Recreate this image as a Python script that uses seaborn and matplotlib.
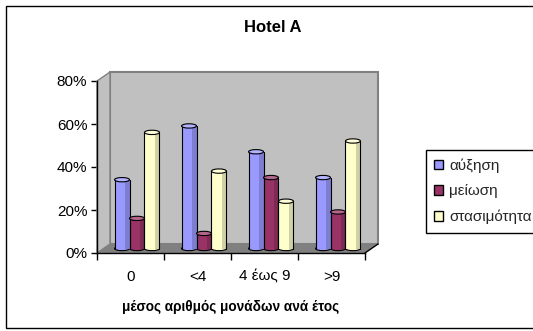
import matplotlib
matplotlib.use("Agg")
import matplotlib.pyplot as plt
import matplotlib.colors as mcolors
from matplotlib.patches import Polygon, Rectangle, Ellipse, Patch
from matplotlib.lines import Line2D
from matplotlib.ticker import PercentFormatter, FixedLocator
from matplotlib.transforms import Affine2D
import seaborn as sns
import pandas as pd

# Data
categories = ["0", "<4", "4 έως 9", ">9"]
series = ["αύξηση", "μείωση", "στασιμότητα"]
increase = [0.32, 0.57, 0.45, 0.33]
decrease = [0.14, 0.07, 0.33, 0.17]
stagnation = [0.54, 0.36, 0.22, 0.50]
colors = ["#9999FF", "#993366", "#FFFFCC"]
y_ticks = [0.0, 0.2, 0.4, 0.6, 0.8]

df = pd.DataFrame({
    "cat": categories * 3,
    "series": [series[0]] * 4 + [series[1]] * 4 + [series[2]] * 4,
    "val": increase + decrease + stagnation,
})

sns.set_theme(style="white")
plt.rcParams["font.family"] = ["Liberation Sans", "DejaVu Sans"]

W, H = 533, 331
fig = plt.figure(figsize=(W / 100, H / 100), dpi=100)
fig.patch.set_facecolor("white")

# front plane of the 3D box
x0, x1, y0, y1 = 97, 365, 253, 81
ax = fig.add_axes([x0 / W, (H - y0) / H, (x1 - x0) / W, (y0 - y1) / H])
ax.patch.set_visible(False)

sns.barplot(data=df, x="cat", y="val", hue="series", palette=colors,
            width=0.67, gap=0, saturation=1, edgecolor="none",
            legend=False, ax=ax)
bars = list(ax.patches)

ax.set_xlim(-0.5, 3.5)
ax.set_ylim(0, 0.8)

# depth offset of the box (back wall) in data units
DX = 13 * 4 / (x1 - x0)
DY = 9 * 0.8 / (y0 - y1)

wall_c, wall_e = "#C0C0C0", "#808080"
ax.add_patch(Polygon([(-0.5 + DX, DY), (3.5 + DX, DY), (3.5 + DX, 0.8 + DY),
                      (-0.5 + DX, 0.8 + DY)], closed=True, fc=wall_c,
                     ec=wall_e, lw=1.5, zorder=0.5, clip_on=False))
ax.add_patch(Polygon([(-0.5, 0), (-0.5, 0.8), (-0.5 + DX, 0.8 + DY),
                      (-0.5 + DX, DY)], closed=True, fc=wall_c, ec=wall_e,
                     lw=1.0, zorder=0.6, clip_on=False))
ax.add_patch(Polygon([(-0.5, 0), (3.5, 0), (3.5 + DX, DY), (-0.5 + DX, DY)],
                     closed=True, fc="#808080", ec="none", zorder=0.7,
                     clip_on=False))
ax.add_line(Line2D([3.5, 3.5 + DX], [0, DY], color="black", lw=1.0,
                   zorder=6, clip_on=False))

# bars stand half way into the box; render them as cylinders
shift = Affine2D().translate(DX / 2, DY / 2) + ax.transData
EH = 0.02
for p in bars:
    bx, bw, bh = p.get_x(), p.get_width(), p.get_height()
    fc = mcolors.to_rgb(p.get_facecolor())
    dark = tuple(c * 0.82 for c in fc)
    light = tuple(c + (1 - c) * 0.25 for c in fc)
    p.set_transform(shift)
    p.set_zorder(3)
    p.set_clip_on(False)
    cx = bx + bw / 2
    ax.add_patch(Ellipse((cx, 0), bw, EH, fc=fc, ec="black", lw=0.8,
                         transform=shift, zorder=2.5, clip_on=False))
    ax.add_patch(Rectangle((bx + 0.72 * bw, 0), 0.28 * bw, bh, fc=dark,
                           ec="none", transform=shift, zorder=3.2,
                           clip_on=False))
    for sx in (bx, bx + bw):
        ax.add_line(Line2D([sx, sx], [0, bh], color="black", lw=0.8,
                           transform=shift, zorder=3.5, clip_on=False))
    ax.add_patch(Ellipse((cx, bh), bw, EH, fc=light, ec="black", lw=0.8,
                         transform=shift, zorder=4, clip_on=False))

# axes
for s in ("top", "right"):
    ax.spines[s].set_visible(False)
for s in ("left", "bottom"):
    ax.spines[s].set_color("black")
    ax.spines[s].set_linewidth(1.0)
    ax.spines[s].set_zorder(6)

ax.yaxis.set_major_locator(FixedLocator(y_ticks))
ax.yaxis.set_major_formatter(PercentFormatter(1.0, decimals=0))
ax.tick_params(axis="y", which="major", direction="out", length=4,
               width=1, color="black", pad=3, labelsize=11,
               labelcolor="black", left=True)

ax.set_xticks([-0.5, 0.5, 1.5, 2.5, 3.5])
ax.set_xticklabels([])
ax.set_xticks(range(len(categories)), minor=True)
ax.set_xticklabels(categories, minor=True)
ax.tick_params(axis="x", which="major", direction="out", length=5, width=1,
               color="black", bottom=True)
ax.tick_params(axis="x", which="minor", length=0, pad=12, labelsize=11,
               labelcolor="black")

ax.set_xlabel("μέσος αριθμός μονάδων ανά έτος", fontsize=9.8,
              fontweight="bold", color="black", labelpad=12)
ax.set_ylabel("")
ax.grid(False)

fig.text(273 / W, (H - 28) / H, "Hotel A", fontsize=12, fontweight="bold",
         ha="center", va="center", color="black")

handles = [Patch(fc=c, ec="black", lw=1.0) for c in colors]
leg = fig.legend(handles, series, loc="upper left",
                 bbox_to_anchor=(426 / W, (H - 150) / H), fontsize=11,
                 frameon=True, fancybox=False, edgecolor="black",
                 handlelength=0.55, handleheight=0.55, handletextpad=0.4,
                 labelspacing=0.75, borderpad=0.55, borderaxespad=0)
leg.get_frame().set_linewidth(1.0)
leg.get_frame().set_alpha(1)

fig.add_artist(Rectangle((6 / W, 3 / H), 1.0, (H - 9) / H, fill=False,
                         ec="black", lw=1.0, transform=fig.transFigure))

fig.savefig("out.png", dpi=100)
